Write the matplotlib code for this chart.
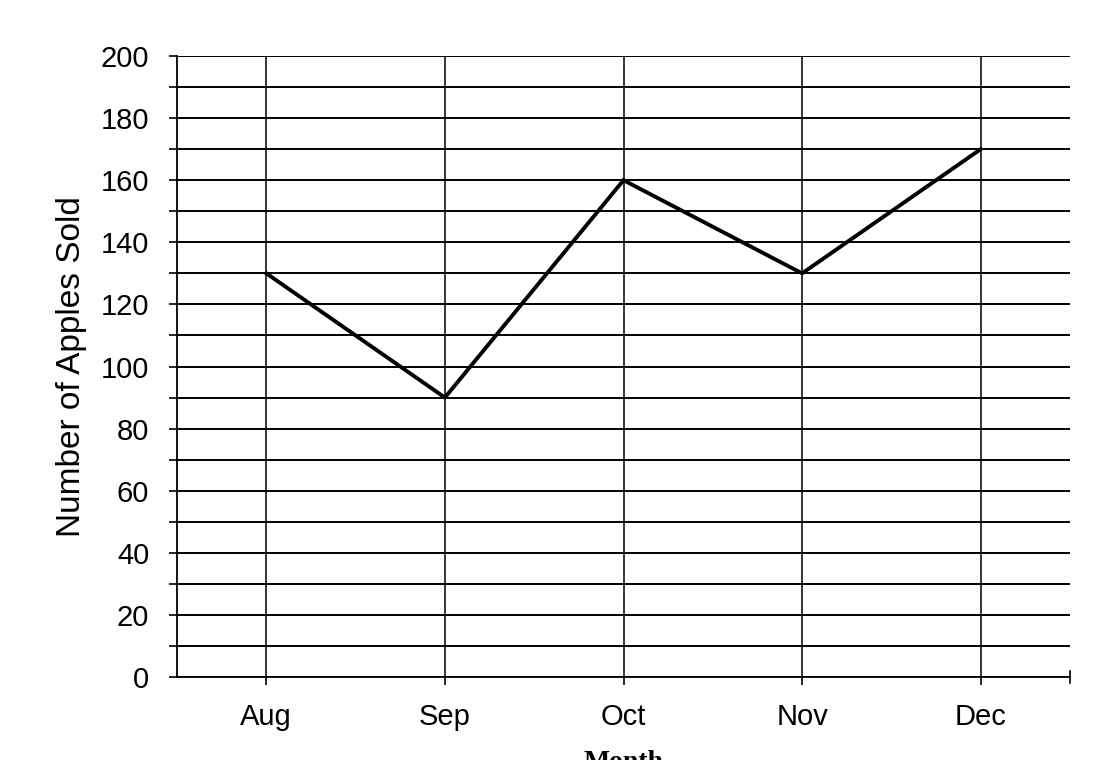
import matplotlib
matplotlib.use("Agg")
import matplotlib.pyplot as plt
import numpy as np

months = ["Aug", "Sep", "Oct", "Nov", "Dec"]
apples = [130, 90, 160, 130, 170]
y_ticks = [0, 20, 40, 60, 80, 100, 120, 140, 160, 180, 200]

plt.rcParams['font.family'] = ['Liberation Sans', 'DejaVu Sans']

fig = plt.figure(figsize=(11.09, 7.60), dpi=100)
ax = fig.add_axes([177/1109, 83/760, (1070-177)/1109, (677-56)/760])

x = np.arange(len(months))
ax.plot(x, apples, color='black', linewidth=2.8, zorder=3, solid_joinstyle='miter')

ax.set_xlim(-0.5, len(months) - 0.5)
ax.set_ylim(0, 200)

ax.set_yticks(y_ticks)
ax.set_yticklabels([str(v) for v in y_ticks])
ax.set_yticks(np.arange(10, 200, 20), minor=True)
ax.set_xticks(x)
ax.set_xticklabels(months)

# horizontal grid every 10
ax.grid(True, which='both', axis='y', color='black', linewidth=1.4)
ax.grid(True, which='major', axis='x', color='black', linewidth=1.1)

ax.tick_params(axis='y', which='both', direction='out', length=6, width=1.2, color='black')
ax.tick_params(axis='y', which='major', labelsize=21, pad=14)
ax.tick_params(axis='x', which='major', direction='out', length=6, width=1.2,
               labelsize=21, pad=13)

for s in ['top', 'right']:
    ax.spines[s].set_visible(False)
ax.spines['left'].set_linewidth(1.3)
ax.spines['bottom'].set_linewidth(1.3)

# end tick at right of x axis
ax.plot([len(months) - 0.5, len(months) - 0.5], [-2, 2], color='black', lw=1.2,
        clip_on=False)

ax.set_ylabel("Number of Apples Sold", fontsize=24, labelpad=10)

fig.text(623/1109, 10/760, "Month", ha='center', va='top', fontsize=20,
         fontweight='bold', family=['Liberation Serif', 'DejaVu Serif'])

fig.savefig("out.png", dpi=100)
